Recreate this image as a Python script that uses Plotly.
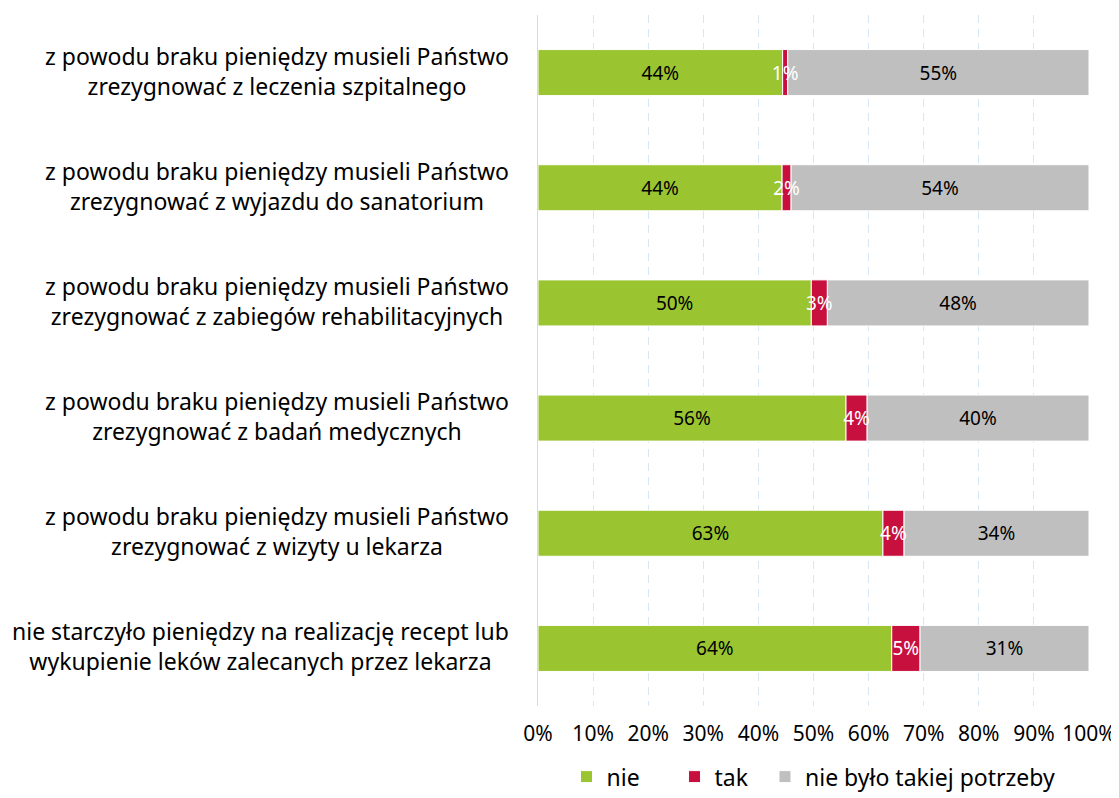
import plotly.graph_objects as go

categories = [
    "z powodu braku pieniędzy musieli Państwo<br>zrezygnować z leczenia szpitalnego",
    "z powodu braku pieniędzy musieli Państwo<br>zrezygnować z wyjazdu do sanatorium",
    "z powodu braku pieniędzy musieli Państwo<br>zrezygnować z zabiegów rehabilitacyjnych",
    "z powodu braku pieniędzy musieli Państwo<br>zrezygnować z badań medycznych",
    "z powodu braku pieniędzy musieli Państwo<br>zrezygnować z wizyty u lekarza",
    "nie starczyło pieniędzy na realizację recept lub<br>wykupienie leków zalecanych przez lekarza",
]
nie = [44.4, 44.3, 49.6, 55.9, 62.6, 64.2]
tak = [0.9, 1.6, 2.9, 3.8, 3.8, 5.1]
brak = [54.7, 54.1, 47.5, 40.3, 33.6, 30.7]
series_names = ["nie", "tak", "nie było takiej potrzeby"]
colors = ["#9AC531", "#C8103E", "#BFBFBF"]
text_colors = ["#000000", "#FFFFFF", "#000000"]
ticks = [0, 10, 20, 30, 40, 50, 60, 70, 80, 90, 100]

FONT = "Noto Sans"
NB = "\u00a0"

# stacking bases computed from the data (so the 'tak' labels can be drawn on top)
base_nie = [0] * len(nie)
base_tak = list(nie)
base_brak = [a + b for a, b in zip(nie, tak)]

specs = [
    (2, brak, base_brak, 3),
    (0, nie, base_nie, 1),
    (1, tak, base_tak, 2),
]
legend_names = [series_names[0] + NB * 5, series_names[1] + NB * 2, series_names[2]]

fig = go.Figure()
for idx, vals, base, rank in specs:
    fig.add_trace(go.Bar(
        y=categories, x=vals, base=base, name=legend_names[idx], orientation="h",
        legendrank=rank,
        marker=dict(color=colors[idx], line=dict(color="white", width=1)),
        texttemplate="%{x:.0f}%", textposition="inside", insidetextanchor="middle",
        constraintext="none", textangle=0, cliponaxis=False,
        textfont=dict(color=text_colors[idx], size=19, family=FONT),
        width=0.4,
    ))

for cat in categories:
    fig.add_annotation(
        x=0, xref="paper", y=cat, yref="y", text=cat, showarrow=False,
        xanchor="right", xshift=-27, align="center", yshift=2,
        font=dict(size=23, family=FONT, color="#000000"),
    )

fig.update_layout(
    barmode="overlay",
    width=1111, height=790,
    margin=dict(l=530, r=30, t=7, b=92),
    paper_bgcolor="white", plot_bgcolor="white",
    font=dict(family=FONT, size=19, color="#000000"),
    legend=dict(orientation="h", x=0.5, xanchor="center", xref="paper",
                y=0.027, yanchor="middle", yref="container",
                font=dict(size=23, family=FONT), traceorder="normal"),
    xaxis=dict(range=[0, 100], tickvals=ticks, ticktext=[f"{t}%" for t in ticks],
               showgrid=True, gridcolor="#D8E7F5", griddash="8px,6px", gridwidth=1,
               zeroline=False, showline=False, ticks="", ticklabelstandoff=13,
               tickfont=dict(size=21, family=FONT), automargin=False),
    yaxis=dict(autorange="reversed", showticklabels=False, showgrid=False,
               showline=True, linecolor="#D9D9D9", linewidth=1, zeroline=False),
)
fig.write_html("out.html")
